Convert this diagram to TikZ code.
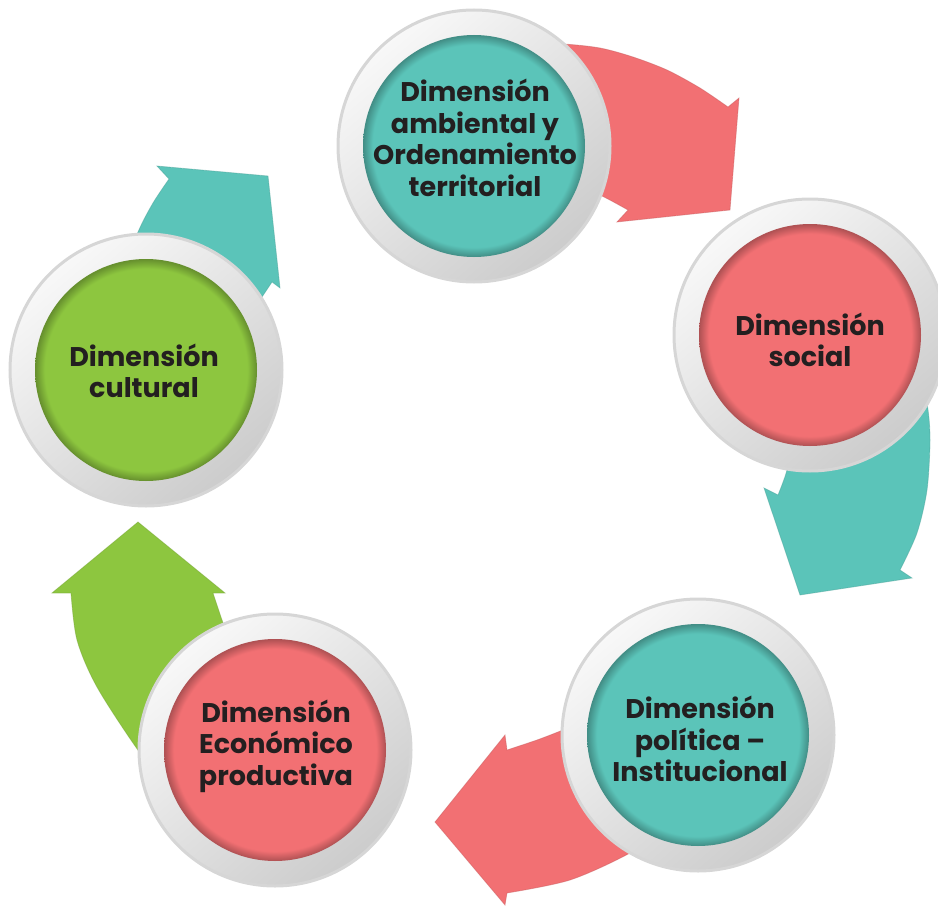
\documentclass[tikz,border=0pt]{standalone}
\usepackage{fontspec}
\setmainfont{Poppins}
\definecolor{cteal}{HTML}{5BC4B9}
\definecolor{cred}{HTML}{F27073}
\definecolor{cgreen}{HTML}{8DC63F}
\definecolor{ctext}{HTML}{231F20}
\definecolor{ringlight}{HTML}{F8F8F8}
\definecolor{ringdark}{HTML}{CCCCCC}
\pgfdeclareradialshading{tealdisk}{\pgfpointorigin}{color(0bp)=(cteal); color(22.8bp)=(cteal); color(25bp)=(cteal!72!black); color(50bp)=(cteal!72!black)}
\pgfdeclareradialshading{reddisk}{\pgfpointorigin}{color(0bp)=(cred); color(22.8bp)=(cred); color(25bp)=(cred!72!black); color(50bp)=(cred!72!black)}
\pgfdeclareradialshading{greendisk}{\pgfpointorigin}{color(0bp)=(cgreen); color(22.8bp)=(cgreen); color(25bp)=(cgreen!72!black); color(50bp)=(cgreen!72!black)}
\tikzset{
  ring/.style={circle, minimum size=272pt, inner sep=0pt, top color=ringlight, bottom color=ringdark, shading angle=40, draw=gray!32, line width=3pt},
  disk/.style={circle, minimum size=222pt, inner sep=0pt, shading=#1},
  lbl/.style={align=center, text=ctext, font=\fontsize{27}{31.5}\selectfont\bfseries},
  band/.style={fill=#1, draw=#1!82!black, draw opacity=0.45, line width=0.8pt, line join=miter}
}
\begin{document}
\begin{tikzpicture}[x=1pt,y=-1pt]
\useasboundingbox (0,0) rectangle (938,907);
% arrows
\path[band=cred] plot[smooth] coordinates {(525,44) (563,44) (600,48) (633,57) (667,70) (700,88) (728,107)}
  -- (739,98) -- (730,210) -- (617,222) -- (628,210)
  -- plot[smooth] coordinates {(628,210) (600,195) (560,178)} -- cycle;
\path[band=cteal] plot[smooth] coordinates {(915,350) (927,403) (930,440) (927,490) (917,533) (900,570)}
  -- (912,578) -- (800,595) -- (764,488) -- (778,495)
  -- plot[smooth] coordinates {(778,495) (787,470) (795,430)} -- cycle;
\path[band=cred] plot[smooth] coordinates {(600,715) (563,730) (537,740) (507,750)}
  -- (505,735) -- (435,822) -- (505,905) -- (507,893)
  -- plot[smooth] coordinates {(507,893) (570,880) (630,853) (680,820)} -- cycle;
\path[band=cgreen] plot[smooth] coordinates {(185,810) (140,753) (97,687) (77,640) (71,593)}
  -- (52,593) -- (138,522) -- (225,593) -- (213,593)
  -- plot[smooth] coordinates {(213,593) (222,620) (234,655)} -- cycle;
\path[band=cteal] plot[smooth] coordinates {(120,280) (138,232) (153,203) (169,179)}
  -- (157,166) -- (268,176) -- (280,288) -- (272,282)
  -- plot[smooth] coordinates {(272,282) (262,297) (240,330)} -- cycle;
% circles
\node[ring] (Aring) at (474,146) {};
\node[disk=tealdisk] (A) at (474,146) {};
\node[ring] (Bring) at (810,335) {};
\node[disk=reddisk] (B) at (810,335) {};
\node[ring] (Cring) at (698,735) {};
\node[disk=tealdisk] (C) at (698,735) {};
\node[ring] (Dring) at (275,750) {};
\node[disk=reddisk] (D) at (275,750) {};
\node[ring] (Ering) at (146,370) {};
\node[disk=greendisk] (E) at (146,370) {};
% labels
\node[lbl] (At) at (475,138) {Dimensión\\ambiental y\\Ordenamiento\\territorial};
\node[lbl] (Bt) at (810,340) {Dimensión\\social};
\node[lbl] (Ct) at (700,739) {Dimensión\\política –\\Institucional};
\node[lbl] (Dt) at (276,746) {Dimensión\\Económico\\productiva};
\node[lbl] (Et) at (144,371) {Dimensión\\cultural};
\end{tikzpicture}
\end{document}
